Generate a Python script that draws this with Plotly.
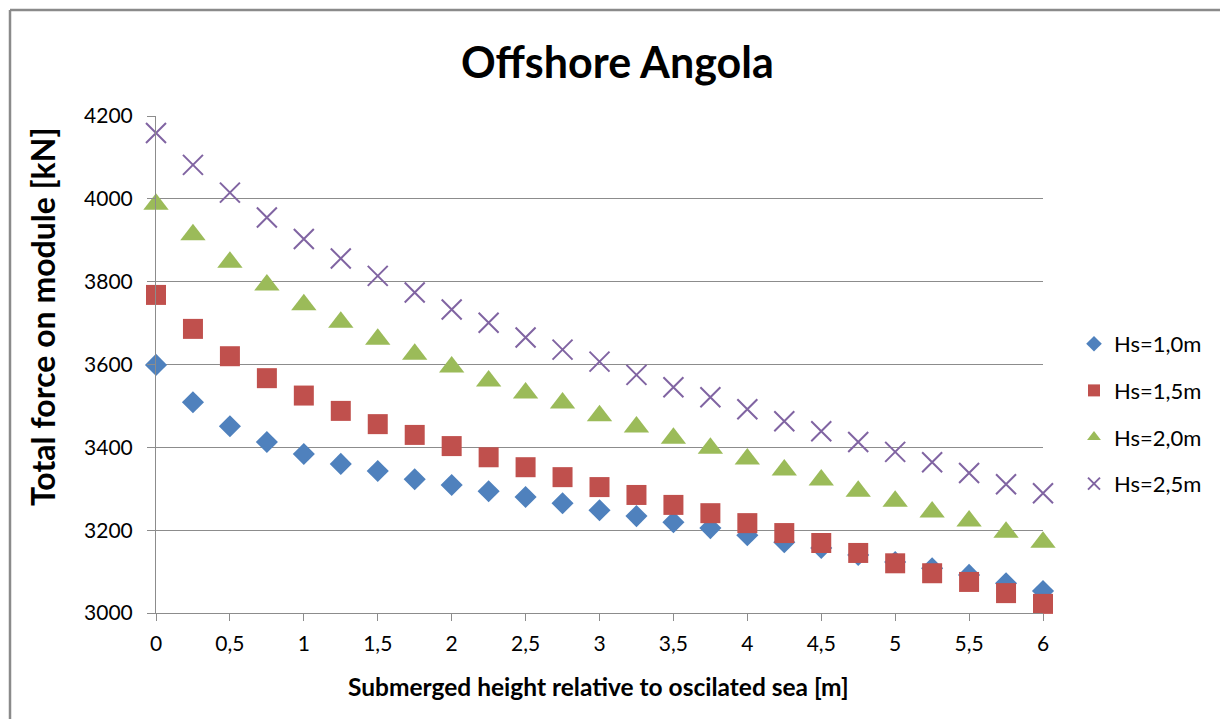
import plotly.graph_objects as go

# Submerged height (m)
heights = [0, 0.25, 0.5, 0.75, 1, 1.25, 1.5, 1.75, 2, 2.25, 2.5, 2.75, 3,
           3.25, 3.5, 3.75, 4, 4.25, 4.5, 4.75, 5, 5.25, 5.5, 5.75, 6]

# Total force on module (kN) per significant wave height
force_hs10 = [3599, 3509, 3451, 3413, 3384, 3360, 3343, 3323, 3309, 3294, 3280, 3265, 3248,
              3234, 3219, 3205, 3188, 3171, 3157, 3140, 3123, 3108, 3092, 3072, 3053]
force_hs15 = [3768, 3686, 3620, 3567, 3525, 3488, 3456, 3430, 3403, 3376, 3352, 3328, 3304,
              3285, 3261, 3241, 3217, 3193, 3169, 3145, 3120, 3096, 3075, 3048, 3022]
force_hs20 = [3987, 3913, 3847, 3792, 3744, 3702, 3661, 3625, 3594, 3560, 3531, 3507, 3476,
              3449, 3422, 3398, 3372, 3345, 3321, 3294, 3270, 3244, 3222, 3195, 3171]
force_hs25 = [4159, 4082, 4015, 3955, 3903, 3856, 3814, 3774, 3733, 3701, 3665, 3636, 3607,
              3575, 3545, 3521, 3492, 3463, 3439, 3413, 3389, 3364, 3338, 3311, 3289]

series_names = ["Hs=1,0m", "Hs=1,5m", "Hs=2,0m", "Hs=2,5m"]

x_tick_vals = [0, 0.5, 1, 1.5, 2, 2.5, 3, 3.5, 4, 4.5, 5, 5.5, 6]
x_tick_text = ["0", "0,5", "1", "1,5", "2", "2,5", "3", "3,5", "4", "4,5", "5", "5,5", "6"]
y_tick_vals = [3000, 3200, 3400, 3600, 3800, 4000, 4200]

FONT = "Lato"
GRID = "#8c8c8c"
TICK_SIZE = 21

styles = [
    dict(symbol="diamond", size=17, color="#4F81BD"),
    dict(symbol="square", size=20, color="#C0504D"),
    dict(symbol="triangle-up", size=22, color="#9BBB59"),
    dict(symbol="x-thin", size=20, color="#8064A2", line=dict(width=2, color="#8064A2")),
]

fig = go.Figure()
for name, ys, st in zip(series_names, [force_hs10, force_hs15, force_hs20, force_hs25], styles):
    marker = dict(symbol=st["symbol"], size=st["size"], color=st["color"])
    if "line" in st:
        marker["line"] = st["line"]
    else:
        marker["line"] = dict(width=0)
    fig.add_trace(go.Scatter(
        x=heights, y=ys, mode="markers", name=name, marker=marker,
        cliponaxis=False, legendgroup=name,
    ))

L, R, T, B = 156, 177, 116, 106
W, H = 1220, 719
pw, ph = W - L - R, H - T - B

def px_x(p):
    return (p - L) / pw

def px_y(p):
    return 1 - (p - T) / ph

fig.update_layout(
    width=W, height=H,
    margin=dict(l=L, r=R, t=T, b=B, autoexpand=False),
    paper_bgcolor="white", plot_bgcolor="white",
    font=dict(family=FONT, color="#000000", size=TICK_SIZE),
    showlegend=True,
    legend=dict(
        x=px_x(1074), y=px_y(323), xanchor="left", yanchor="top",
        font=dict(family=FONT, size=22, color="#000000"),
        itemsizing="constant", tracegroupgap=15,
        bgcolor="rgba(0,0,0,0)",
    ),
    xaxis=dict(
        range=[0, 6], tickvals=x_tick_vals, ticktext=x_tick_text,
        showgrid=False, zeroline=False,
        showline=True, linecolor=GRID, linewidth=1,
        ticks="outside", ticklen=7, tickcolor=GRID, tickwidth=1,
        tickfont=dict(family=FONT, size=TICK_SIZE, color="#000000"),
        ticklabelstandoff=5,
    ),
    yaxis=dict(
        range=[3000, 4200], tickvals=y_tick_vals,
        showgrid=True, gridcolor=GRID, gridwidth=1, zeroline=False,
        showline=True, linecolor=GRID, linewidth=1,
        ticks="outside", ticklen=8, tickcolor=GRID, tickwidth=1,
        tickfont=dict(family=FONT, size=TICK_SIZE, color="#000000"),
        ticklabelstandoff=10,
    ),
    annotations=[
        dict(text="<b>Offshore Angola</b>", xref="paper", yref="paper",
             x=px_x(617), y=px_y(62), xanchor="center", yanchor="middle",
             showarrow=False, font=dict(family=FONT, size=43, color="#000000")),
        dict(text="<b>Submerged height relative to oscilated sea [m]</b>", xref="paper", yref="paper",
             x=px_x(598), y=px_y(686), xanchor="center", yanchor="middle",
             showarrow=False, font=dict(family=FONT, size=24.5, color="#000000")),
        dict(text="<b>Total force on module [kN]</b>", xref="paper", yref="paper",
             x=px_x(42), y=px_y(317), xanchor="center", yanchor="middle", textangle=-90,
             showarrow=False, font=dict(family=FONT, size=32, color="#000000")),
    ],
    shapes=[
        # outer chart frame (top and left edges)
        dict(type="line", xref="paper", yref="paper",
             x0=px_x(10), y0=px_y(10), x1=px_x(1225), y1=px_y(10),
             line=dict(color="#8a8a8a", width=2.5)),
        dict(type="line", xref="paper", yref="paper",
             x0=px_x(10), y0=px_y(10), x1=px_x(10), y1=px_y(725),
             line=dict(color="#8a8a8a", width=2.5)),
    ],
)

fig.write_html("out.html")
